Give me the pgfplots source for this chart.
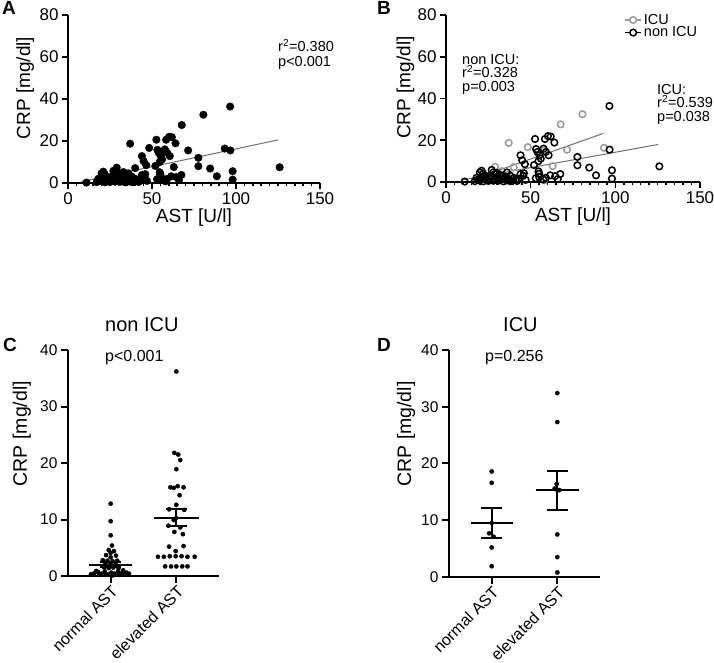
\documentclass[border=0pt]{standalone}
\usepackage{pgfplots}
\pgfplotsset{compat=1.18}
\usepackage{pgfplotstable}
\usepackage{fontspec}
\setmainfont{Liberation Sans}
\definecolor{icugray}{HTML}{9A9A9A}
\definecolor{reggray}{HTML}{707070}

\pgfplotstableread{
x y
80.6 32.5
67.7 27.6
37.0 18.7
48.3 16.7
71.5 15.5
93.3 16.4
58.0 15.3
63.0 7.6
29.0 7.3
40.0 7.1
33.0 5.2
25.0 1.9
55.0 3.5
58.0 0.8
}\icu

\pgfplotstableread{
x y
96.5 36.4
60.2 22.0
61.8 21.8
58.4 20.6
52.6 20.6
53.2 15.8
54.0 14.4
55.2 12.8
57.6 16.0
59.0 14.4
60.6 12.8
64.0 18.9
44.0 12.8
45.0 10.4
46.6 8.5
54.6 10.0
56.0 11.2
52.0 8.1
54.6 5.1
77.6 12.0
77.6 8.0
84.6 6.9
88.6 3.2
96.6 15.5
98.0 5.6
98.0 1.6
126.0 7.5
55.0 4.0
55.0 2.4
53.0 1.8
64.5 2.8
67.5 3.8
66.0 1.4
57.5 1.2
61.5 3.2
59.0 2.0
46.0 4.2
11.0 0.2
17.0 0.4
18.0 2.0
19.0 1.2
20.0 4.6
21.0 5.4
21.0 2.2
22.0 0.3
23.0 3.0
24.0 1.0
25.0 0.5
26.0 3.0
27.0 5.8
28.0 4.6
28.0 0.6
29.0 3.8
30.0 1.8
31.0 2.2
31.0 0.6
32.0 3.5
33.0 1.4
34.0 0.3
35.0 2.6
36.0 4.6
37.0 1.4
38.0 0.4
39.0 0.6
40.0 2.0
41.0 1.0
42.0 0.5
43.0 1.4
44.0 3.8
45.6 3.0
47.0 1.0
24.0 2.6
26.0 1.6
20.0 0.8
29.0 1.0
33.0 2.8
36.0 0.8
22.0 4.0
30.0 4.4
34.0 1.8
38.0 3.0
}\nonicu

% panel C: non ICU, normal (x=1) and elevated (x=2)
\pgfplotstableread{
x y
1.00 12.8
1.00 9.7
1.00 7.2
1.02 5.4
0.97 4.6
1.05 4.4
1.00 4.1
0.93 3.7
1.08 3.6
1.00 3.3
0.88 2.8
0.95 2.7
1.03 2.6
1.10 2.7
0.92 2.2
1.00 2.1
1.08 2.0
0.90 1.5
0.97 1.4
1.04 1.5
1.12 1.4
0.75 0.5
0.81 0.7
0.86 0.4
0.91 0.8
0.96 0.3
1.01 0.6
1.06 0.4
1.11 0.8
1.16 0.5
1.22 0.3
1.28 0.4
0.70 0.3
0.83 0.2
0.93 0.2
1.03 0.1
1.13 0.2
1.24 0.6
0.78 0.9
1.19 1.0
2.00 36.2
1.97 21.8
2.03 21.5
2.06 20.5
2.00 18.9
1.91 15.7
1.96 15.6
2.02 15.9
2.11 15.7
2.05 14.3
2.00 12.6
1.89 11.8
2.12 11.7
1.96 9.9
1.88 8.9
2.06 8.6
1.97 7.8
2.10 7.4
1.89 5.2
2.11 5.3
1.99 4.4
1.72 3.4
1.81 3.4
1.90 3.5
1.99 3.5
2.08 3.5
2.17 3.4
2.28 3.4
1.83 1.7
1.92 1.7
2.00 1.7
2.09 1.7
2.17 1.7
}\panelC

% panel D: ICU
\pgfplotstableread{
x y
1.00 18.6
1.00 16.6
0.96 7.7
1.03 7.1
1.00 5.2
1.00 1.9
2.00 32.4
2.00 27.3
1.99 16.4
1.96 15.6
2.03 15.3
2.00 7.5
2.00 3.5
2.00 0.8
}\panelD

\pgfplotsset{
  gp/.style={
    scale only axis, axis x line*=bottom, axis y line*=left,
    xtick pos=left, ytick pos=left, tick align=outside,
    axis line style={line width=1.5bp,black},
    tick style={line width=1.5bp,black},
    major tick length=6bp, minor tick length=3.5bp,
    tick label style={font=\fontsize{17bp}{20bp}\selectfont},
    /pgf/number format/assume math mode=true,
    label style={font=\fontsize{19bp}{22bp}\selectfont},
    clip=false,
  },
  gpcat/.style={
    gp,
    axis line style={line width=2bp,black},
    tick style={line width=2bp,black},
    major tick length=7bp,
    tick label style={font=\fontsize{15.5bp}{18bp}\selectfont},
    xmin=0.35, xmax=2.65, ymin=0, ymax=40,
    xtick={1,2}, xticklabels={normal AST, elevated AST},
    ytick={0,10,20,30,40},
    xticklabel style={rotate=45, anchor=north east, inner sep=1bp, font=\fontsize{16bp}{19bp}\selectfont},
    ylabel={CRP [mg/dl]},
    label style={font=\fontsize{19.5bp}{22bp}\selectfont},
  },
}

\begin{document}
\begin{tikzpicture}[x=1bp,y=1bp]
\path[use as bounding box] (0bp,0bp) rectangle (714bp,663bp);

% ---------------- A ----------------
\begin{axis}[gp, at={(68bp,480bp)}, anchor=south west, width=252bp, height=168bp,
  xmin=0, xmax=150, ymin=0, ymax=80,
  xtick={0,50,100,150}, minor x tick num=9, ytick={0,20,40,60,80},
  xlabel={AST [U/l]}, ylabel={CRP [mg/dl]},
  xlabel style={at={(axis description cs:0.5,-0.205)}, anchor=center},
  ylabel style={at={(axis description cs:-0.17,0.565)}, anchor=center}]
\addplot[reggray, line width=1bp] coordinates {(8,0.6) (125,20.5)};
\addplot[only marks, mark=*, mark size=3.8bp, black] table {\nonicu};
\addplot[only marks, mark=*, mark size=3.8bp, black] table {\icu};
\end{axis}

% ---------------- B ----------------
\begin{axis}[gp, at={(446bp,481bp)}, anchor=south west, width=254bp, height=167bp,
  xmin=0, xmax=150, ymin=0, ymax=80,
  xtick={0,50,100,150}, minor x tick num=9, ytick={0,20,40,60,80},
  xlabel={AST [U/l]}, ylabel={CRP [mg/dl]},
  xlabel style={at={(axis description cs:0.5,-0.205)}, anchor=center},
  ylabel style={at={(axis description cs:-0.16,0.565)}, anchor=center},
  legend style={at={(0.69,1.03)}, anchor=north west, draw=none, fill=none,
    font=\fontsize{14.5bp}{16bp}\selectfont, row sep=-3bp},
  legend cell align=left]
\addplot[only marks, mark=o, mark size=3.3bp, icugray, mark options={line width=1.5bp},
  legend image code/.code={\draw[icugray,line width=1.5bp](0bp,0bp)--(16bp,0bp);
    \draw[icugray,line width=1.5bp,fill=white](8bp,0bp) circle (3.3bp);}] table {\icu};
\addlegendentry{ICU}
\addplot[only marks, mark=o, mark size=3.3bp, black, mark options={line width=1.5bp},
  legend image code/.code={\draw[black,line width=1.5bp](0bp,0bp)--(16bp,0bp);
    \draw[black,line width=1.5bp,fill=white](8bp,0bp) circle (3.3bp);}] table {\nonicu};
\addlegendentry{non ICU}
\addplot[reggray, line width=1bp, forget plot] coordinates {(30,5.3) (93,23.3)};
\addplot[reggray, line width=1bp, forget plot] coordinates {(10,1.0) (125.4,18.0)};
\end{axis}

% ---------------- C ----------------
\begin{axis}[gpcat, at={(68bp,87bp)}, anchor=south west, width=151bp, height=226bp,
  ylabel style={at={(axis description cs:-0.305,0.63)}, anchor=center}]
\addplot[only marks, mark=*, mark size=2.1bp, black] table {\panelC};
\addplot[black, line width=2bp] coordinates {(0.67,2.0) (1.33,2.0)};
\addplot[black, line width=2bp] coordinates {(1.66,10.3) (2.34,10.3)};
\addplot[black, only marks, mark=none, error bars/.cd, y dir=both, y explicit,
  error bar style={line width=2bp, black},
  error mark options={rotate=90, mark size=10.8bp, line width=2bp, black}]
  coordinates {(1,2.0) +- (0,0.4) (2,10.3) +- (0,1.5)};
\end{axis}

% ---------------- D ----------------
\begin{axis}[gpcat, at={(449bp,86bp)}, anchor=south west, width=151bp, height=227bp,
  ylabel style={at={(axis description cs:-0.285,0.63)}, anchor=center}]
\addplot[only marks, mark=*, mark size=2.1bp, black] table {\panelD};
\addplot[black, line width=2bp] coordinates {(0.68,9.5) (1.32,9.5)};
\addplot[black, line width=2bp] coordinates {(1.67,15.3) (2.33,15.3)};
\addplot[black, only marks, mark=none, error bars/.cd, y dir=both, y explicit,
  error bar style={line width=2bp, black},
  error mark options={rotate=90, mark size=10.5bp, line width=2bp, black}]
  coordinates {(1,9.5) +- (0,2.7) (2,15.3) +- (0,3.45)};
\end{axis}

% ---------------- texts ----------------
\begin{scope}[every node/.style={inner sep=0pt}]
\node[anchor=base west, font=\bfseries\fontsize{19bp}{22bp}\selectfont] at (2bp,648bp) {A};
\node[anchor=base west, font=\bfseries\fontsize{19bp}{22bp}\selectfont] at (377bp,648bp) {B};
\node[anchor=base west, font=\bfseries\fontsize{19bp}{22bp}\selectfont] at (3bp,311bp) {C};
\node[anchor=base west, font=\bfseries\fontsize{19bp}{22bp}\selectfont] at (377bp,311bp) {D};

\node[anchor=base west, font=\fontsize{14.5bp}{16bp}\selectfont] at (278bp,611bp) {r\textsuperscript{2}=0.380};
\node[anchor=base west, font=\fontsize{14.5bp}{16bp}\selectfont] at (278bp,596bp) {p<0.001};

\node[anchor=base west, font=\fontsize{14.5bp}{16bp}\selectfont] at (462bp,598bp) {non ICU:};
\node[anchor=base west, font=\fontsize{14.5bp}{16bp}\selectfont] at (462bp,585bp) {r\textsuperscript{2}=0.328};
\node[anchor=base west, font=\fontsize{14.5bp}{16bp}\selectfont] at (462bp,571bp) {p=0.003};

\node[anchor=base west, font=\fontsize{14.5bp}{16bp}\selectfont] at (657bp,568bp) {ICU:};
\node[anchor=base west, font=\fontsize{14.5bp}{16bp}\selectfont] at (657bp,555bp) {r\textsuperscript{2}=0.539};
\node[anchor=base west, font=\fontsize{14.5bp}{16bp}\selectfont] at (657bp,541bp) {p=0.038};

\node[anchor=base west, font=\fontsize{20bp}{23bp}\selectfont] at (105bp,331bp) {non ICU};
\node[anchor=base west, font=\fontsize{16bp}{19bp}\selectfont] at (105bp,301bp) {p<0.001};
\node[anchor=base west, font=\fontsize{20bp}{23bp}\selectfont] at (503bp,331bp) {ICU};
\node[anchor=base west, font=\fontsize{16bp}{19bp}\selectfont] at (485bp,301bp) {p=0.256};
\end{scope}
\end{tikzpicture}
\end{document}
